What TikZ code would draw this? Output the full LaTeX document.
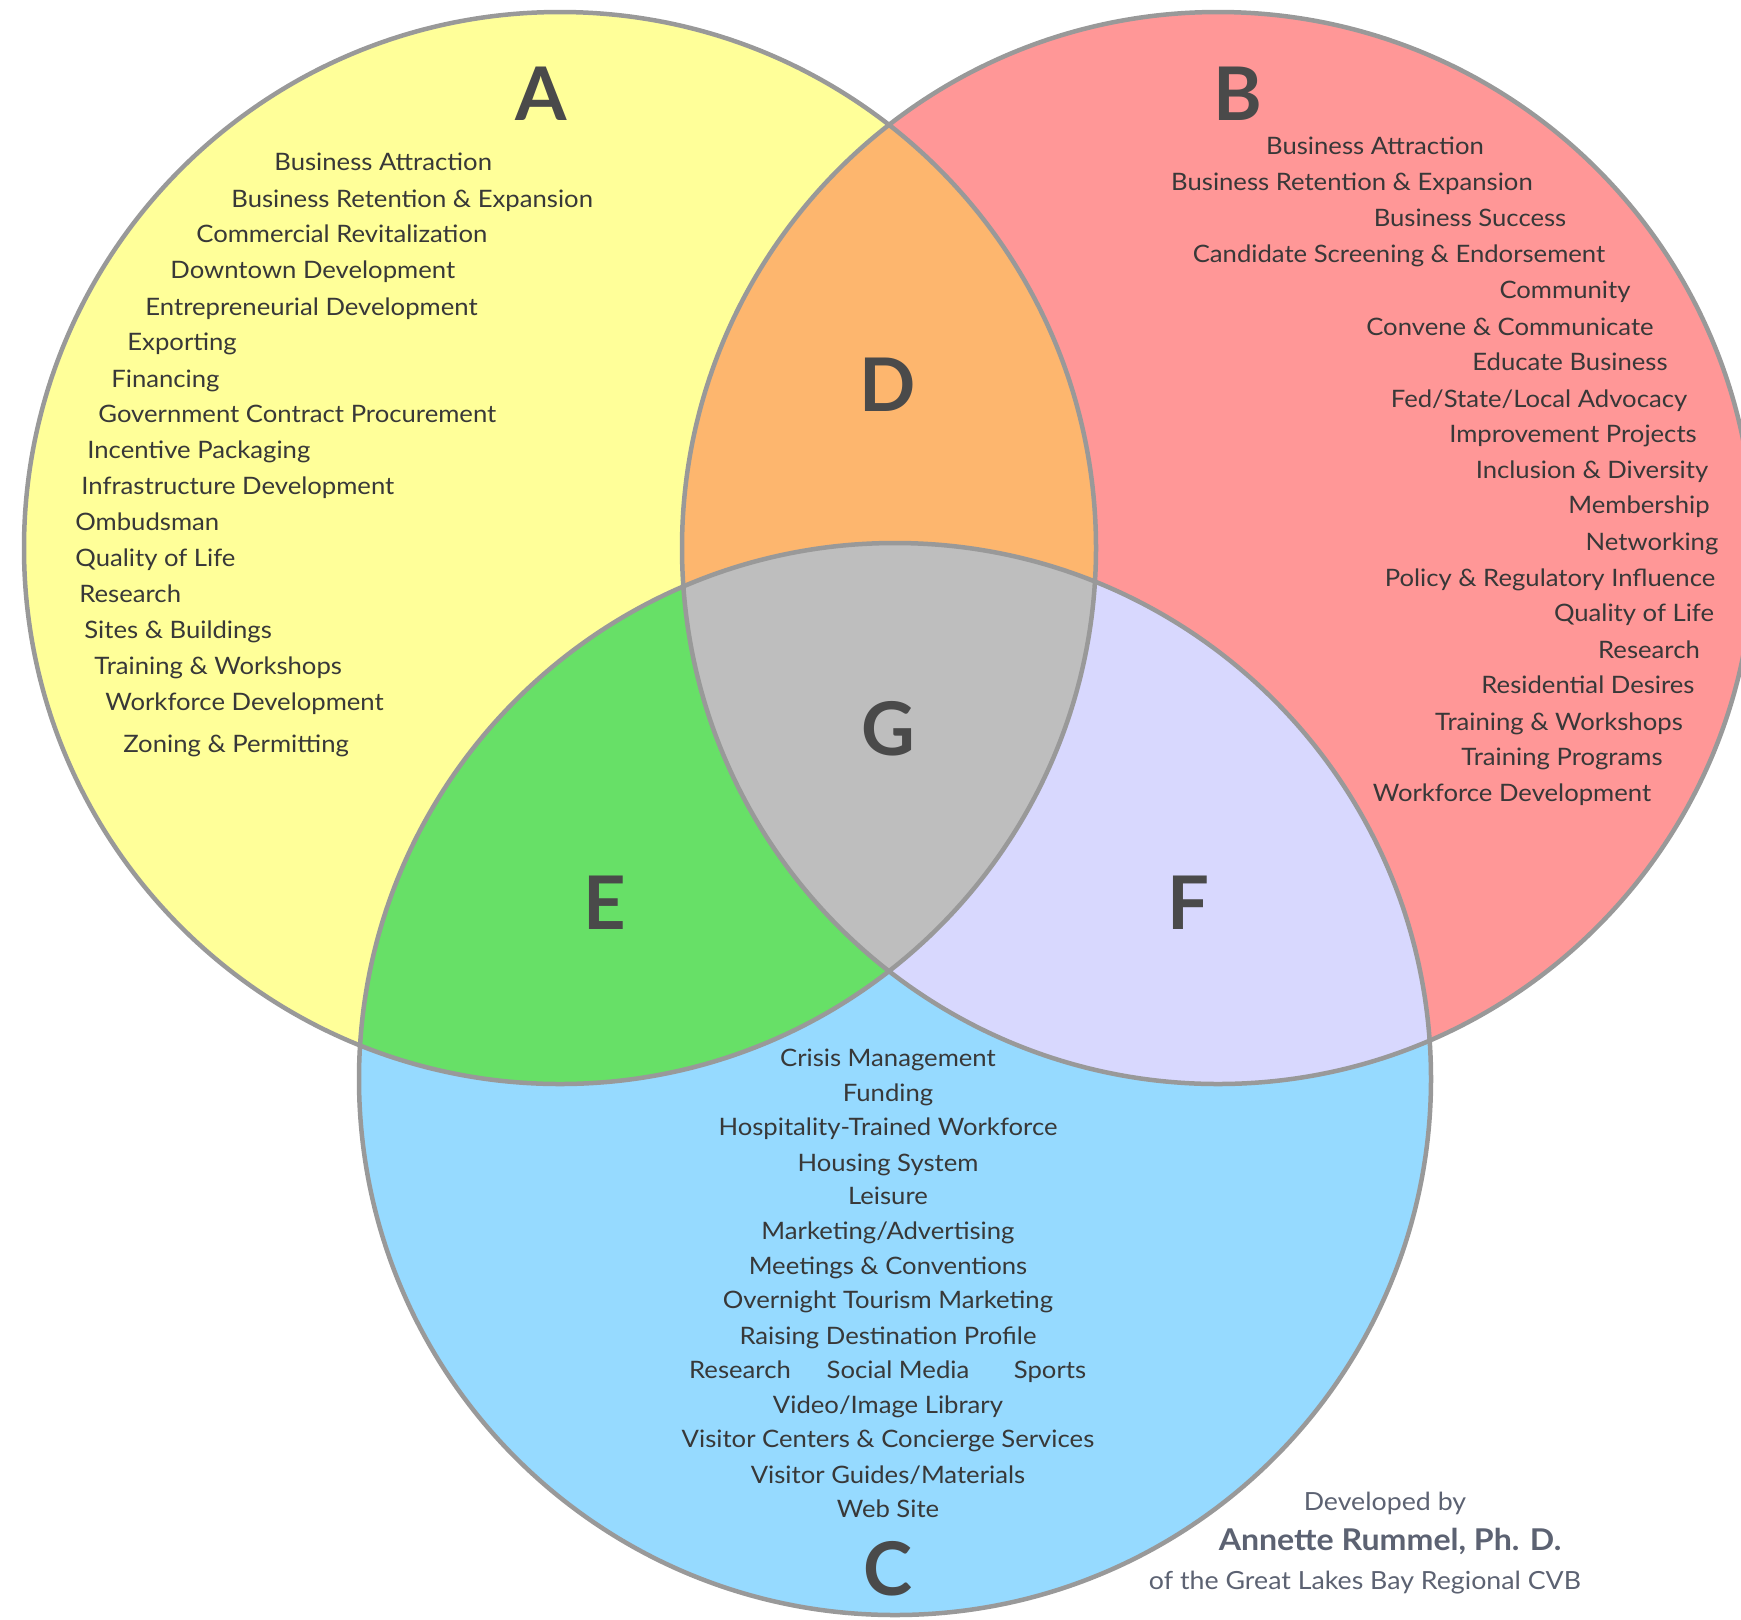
\documentclass[tikz,border=0pt]{standalone}
\usepackage{fontspec}
\setmainfont{Lato}[FakeStretch=1.07]
\newfontfamily\letterfont{Lato}
\definecolor{cA}{HTML}{FFFF99}
\definecolor{cB}{HTML}{FF9797}
\definecolor{cC}{HTML}{96DAFF}
\definecolor{cD}{HTML}{FDB66E}
\definecolor{cE}{HTML}{67E067}
\definecolor{cF}{HTML}{D8D8FE}
\definecolor{cG}{HTML}{BEBEBE}
\definecolor{ring}{HTML}{999999}
\definecolor{txt}{HTML}{383838}
\definecolor{lbl}{HTML}{4A4A4A}
\definecolor{foot}{HTML}{5C6272}
\begin{document}
\begin{tikzpicture}[x=0.5pt,y=-0.5pt,
  item/.style={font=\fontsize{12}{14}\selectfont, text=txt, inner sep=0pt, text height=0.72em, text depth=0pt},
  itemw/.style={item, anchor=west},
  big/.style={font=\letterfont\fontsize{37}{40}\selectfont\bfseries, text=lbl, inner sep=0pt},
  ringline/.style={draw=ring, line width=2.25pt},
  footnote/.style={text=foot, inner sep=0pt, text height=0.72em, text depth=0pt, font=\fontsize{12.5}{14}\selectfont}]
\useasboundingbox (0,0) rectangle (1741,1619);
\clip (0,0) rectangle (1741,1619);
\coordinate (ca) at (560,548);
\coordinate (cb) at (1218,548);
\coordinate (cc) at (895,1079);
\def\rr{268pt}
% base fills
\fill[cA] (ca) circle[radius=\rr];
\fill[cB] (cb) circle[radius=\rr];
\fill[cC] (cc) circle[radius=\rr];
\begin{scope}\clip (ca) circle[radius=\rr]; \fill[cD] (cb) circle[radius=\rr];\end{scope}
\begin{scope}\clip (ca) circle[radius=\rr]; \fill[cE] (cc) circle[radius=\rr];\end{scope}
\begin{scope}\clip (cb) circle[radius=\rr]; \fill[cF] (cc) circle[radius=\rr];\end{scope}
\begin{scope}\clip (ca) circle[radius=\rr]; \clip (cb) circle[radius=\rr]; \fill[cG] (cc) circle[radius=\rr];\end{scope}
\draw[ringline] (ca) circle[radius=\rr];
\draw[ringline] (cb) circle[radius=\rr];
\draw[ringline] (cc) circle[radius=\rr];
% region letters
\node[big] (lA) at (541,94) {A};
\node[big] (lB) at (1238,94) {B};
\node[big] (lD) at (888,385) {D};
\node[big] (lG) at (888,729) {G};
\node[big] (lE) at (605,903) {E};
\node[big] (lF) at (1188,903) {F};
\node[big] (lC) at (888,1569) {C};
% A list
\node[itemw] (a1) at (274,163) {Business Attraction};
\node[itemw] (a2) at (231,200) {Business Retention \& Expansion};
\node[itemw] (a3) at (196,235) {Commercial Revitalization};
\node[itemw] (a4) at (170,271) {Downtown Development};
\node[itemw] (a5) at (145,308) {Entrepreneurial Development};
\node[itemw] (a6) at (127,343) {Exporting};
\node[itemw] (a7) at (111,380) {Financing};
\node[itemw] (a8) at (98,415) {Government Contract Procurement};
\node[itemw] (a9) at (87,451) {Incentive Packaging};
\node[itemw] (a10) at (81,487) {Infrastructure Development};
\node[itemw] (a11) at (75,523) {Ombudsman};
\node[itemw] (a12) at (75,559) {Quality of Life};
\node[itemw] (a13) at (79,595) {Research};
\node[itemw] (a14) at (84,631) {Sites \& Buildings};
\node[itemw] (a15) at (94,667) {Training \& Workshops};
\node[itemw] (a16) at (105,703) {Workforce Development};
\node[itemw] (a17) at (123,745) {Zoning \& Permitting};
% B list
\node[item] (b1) at (1375,147) {Business Attraction};
\node[item] (b2) at (1352,183) {Business Retention \& Expansion};
\node[item] (b3) at (1470,219) {Business Success};
\node[item] (b4) at (1399,255) {Candidate Screening \& Endorsement};
\node[item] (b5) at (1565,291) {Community};
\node[item] (b6) at (1510,328) {Convene \& Communicate};
\node[item] (b7) at (1570,363) {Educate Business};
\node[item] (b8) at (1539,400) {Fed/State/Local Advocacy};
\node[item] (b9) at (1573,435) {Improvement Projects};
\node[item] (b10) at (1592,471) {Inclusion \& Diversity};
\node[item] (b11) at (1639,506) {Membership};
\node[item] (b12) at (1652,543) {Networking};
\node[item] (b13) at (1550,579) {Policy \& Regulatory Influence};
\node[item] (b14) at (1634,614) {Quality of Life};
\node[item] (b15) at (1649,651) {Research};
\node[item] (b16) at (1588,686) {Residential Desires};
\node[item] (b17) at (1559,723) {Training \& Workshops};
\node[item] (b18) at (1562,758) {Training Programs};
\node[item] (b19) at (1512,794) {Workforce Development};
% C list
\node[item] (c1) at (888,1059) {Crisis Management};
\node[item] (c2) at (888,1094) {Funding};
\node[item] (c3) at (888,1128) {Hospitality-Trained Workforce};
\node[item] (c4) at (888,1164) {Housing System};
\node[item] (c5) at (888,1197) {Leisure};
\node[item] (c6) at (888,1232) {Marketing/Advertising};
\node[item] (c7) at (888,1267) {Meetings \& Conventions};
\node[item] (c8) at (888,1301) {Overnight Tourism Marketing};
\node[item] (c9) at (888,1337) {Raising Destination Profile};
\node[item] (c10) at (740,1371) {Research};
\node[item] (c11) at (898,1371) {Social Media};
\node[item] (c12) at (1050,1371) {Sports};
\node[item] (c13) at (888,1406) {Video/Image Library};
\node[item] (c14) at (888,1440) {Visitor Centers \& Concierge Services};
\node[item] (c15) at (888,1476) {Visitor Guides/Materials};
\node[item] (c16) at (888,1510) {Web Site};
% footer
\node[footnote] (f1) at (1385,1503) {Developed by};
\node[footnote, font=\fontsize{15}{17}\selectfont\bfseries] (f2) at (1390,1543) {Annette Rummel, Ph. D.};
\node[footnote] (f3) at (1365,1582) {of the Great Lakes Bay Regional CVB};
\end{tikzpicture}
\end{document}
